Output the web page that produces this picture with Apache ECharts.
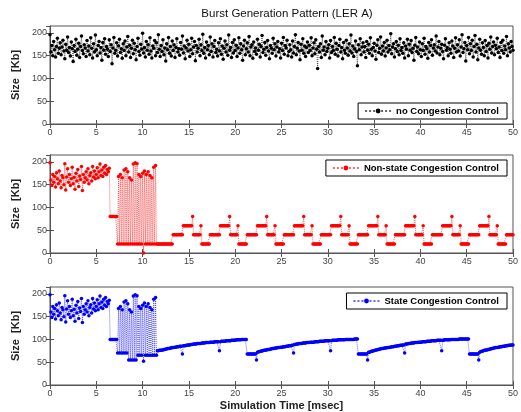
<!DOCTYPE html>
<html>
<head>
<meta charset="utf-8">
<script src="https://cdn.jsdelivr.net/npm/echarts@6/dist/echarts.min.js"></script>
<style>
html,body{margin:0;padding:0;background:#fff;}
#chart{width:521px;height:412px;}
</style>
</head>
<body>
<div id="chart"></div>
<script>
// sampling interval of the simulation [msec]
const timeStep = 0.1;
const seriesNames = ['no Congestion Control', 'Non-state Congestion Control', 'State Congestion Control'];

// Burst size [Kb] without congestion control (t = 0 .. 50 msec)
const noCongestion = [
196,158,172,150,181,163,147,170,188,155,166,178,152,169,184,160,143,175,162,191,
157,168,149,180,165,137,172,159,186,151,164,177,146,170,193,161,154,174,167,148,
183,160,171,152,189,166,145,176,158,195,163,150,172,181,156,168,140,179,162,187,
153,170,164,148,185,159,174,132,167,190,155,162,178,149,171,186,157,165,144,176,
161,182,150,169,192,158,173,146,166,184,154,177,163,141,170,188,159,151,175,164,
199,156,168,147,181,162,174,153,189,160,145,171,166,183,150,178,157,196,164,148,
172,159,185,152,167,138,176,163,190,155,170,149,182,161,174,146,168,187,158,165,
151,179,164,193,156,171,143,167,184,160,175,148,163,188,154,169,181,139,172,158,
166,186,150,174,161,197,155,168,145,180,163,172,152,191,159,176,147,170,183,157,
164,149,178,160,187,153,171,142,166,182,158,174,151,195,162,168,146,179,156,185,
161,173,148,167,189,155,176,163,140,171,184,152,165,178,158,192,150,169,174,144,
180,159,167,153,186,162,175,147,170,194,157,164,179,151,168,183,160,143,172,166,
155,188,163,176,149,169,181,158,165,145,177,161,190,153,172,167,184,150,159,174,
163,147,182,156,170,196,152,166,179,160,141,175,162,187,155,171,148,168,180,157,
173,161,189,150,167,178,154,185,164,122,170,158,176,146,193,162,169,152,181,159,
166,174,145,183,157,170,161,190,153,177,164,149,172,186,158,168,143,179,162,155,
184,167,151,176,160,195,156,171,148,165,182,159,128,174,163,187,152,169,178,158,
170,146,181,162,175,155,189,164,150,168,177,160,142,173,185,157,166,191,153,171,
160,179,149,167,184,158,172,163,198,154,169,176,147,165,181,159,173,152,187,161,
168,155,178,145,171,164,186,150,175,162,183,157,166,140,173,190,159,169,154,180,
163,148,176,161,188,153,170,165,144,179,158,172,185,151,167,174,160,193,156,169,
181,152,166,175,159,143,173,187,162,168,150,178,164,155,182,171,146,166,189,158,
174,160,185,149,169,196,157,165,179,138,172,163,190,154,176,161,184,147,170,194,
158,175,141,167,186,162,153,178,168,150,183,159,172,145,177,164,191,156,170,180,
152,173,165,188,157,169,146,179,161,184,155,171,163,192,150,176,167,158,181,170,
162
];

// Burst size [Kb] with non-state congestion control
const nonStateCongestion = [
198,160,148,172,155,168,145,176,163,152,180,158,143,170,165,150,196,138,167,185,
155,172,148,163,188,152,166,140,175,158,183,146,169,161,190,137,172,155,165,178,
160,185,152,170,176,158,190,167,180,163,172,187,165,178,195,170,182,168,188,175,
192,172,183,178,186,
80,80,80,80,80,80,80,80,
20,168,20,172,20,165,20,182,20,185,20,178,20,165,20,160,20,195,20,198,20,196,
20,172,20,168,20,175,0,180,20,172,20,178,20,170,20,165,20,188,20,192,20,
20,20,20,20,20,20,20,20,20,20,20,20,20,20,20,20,20,
40,40,40,40,40,40,40,40,40,40,40,
60,60,60,60,60,60,60,60,60,60,
80,40,40,40,40,40,40,40,40,60,20,20,20,20,20,20,20,20,20,40,40,40,40,40,40,40,40,40,40,40,60,60,60,60,60,60,60,60,60,60,
80,40,40,40,40,40,40,40,40,60,20,20,20,20,20,20,20,20,20,40,40,40,40,40,40,40,40,40,40,40,60,60,60,60,60,60,60,60,60,60,
80,40,40,40,40,40,40,40,40,60,20,20,20,20,20,20,20,20,20,40,40,40,40,40,40,40,40,40,40,40,60,60,60,60,60,60,60,60,60,60,
80,40,40,40,40,40,40,40,40,60,20,20,20,20,20,20,20,20,20,40,40,40,40,40,40,40,40,40,40,40,60,60,60,60,60,60,60,60,60,60,
80,40,40,40,40,40,40,40,40,60,20,20,20,20,20,20,20,20,20,40,40,40,40,40,40,40,40,40,40,40,60,60,60,60,60,60,60,60,60,60,
80,40,40,40,40,40,40,40,40,60,20,20,20,20,20,20,20,20,20,40,40,40,40,40,40,40,40,40,40,40,60,60,60,60,60,60,60,60,60,60,
80,40,40,40,40,40,40,40,40,60,20,20,20,20,20,20,20,20,20,40,40,40,40,40,40,40,40,40,40,40,60,60,60,60,60,60,60,60,60,60,
80,40,40,40,40,40,40,40,40,60,20,20,20,20,20,20,20,20,20,40,40,40,40,40,40,40,40,40,40,40,60,60,60,60,60,60,60,60,60,60,
80,40,40,40,40,40,40,40,40,60,20,20,20,20,20,20,20,20,20,40,40,40,40,40,40,40,40
];

// Burst size [Kb] with state congestion control
const stateCongestion = [
198,160,148,172,155,168,145,176,163,152,180,158,143,170,165,150,196,138,167,185,
155,172,148,163,188,152,166,140,175,158,183,146,169,161,190,137,172,155,165,178,
160,185,152,170,176,158,190,167,180,163,172,187,165,178,195,170,182,168,188,175,
192,172,183,178,186,
100,100,100,100,100,100,100,100,
70,168,70,172,70,165,70,182,70,185,70,178,55,165,55,160,55,195,55,198,55,196,
65,172,65,168,65,175,52,180,65,172,65,178,65,170,65,165,65,188,65,192,65,
75,75,76,76,76,77,77,78,78,
79,79,80,80,80,81,81,82,82,82,
83,83,84,84,84,85,85,85,68,86,
86,86,87,87,88,88,88,89,89,89,
90,90,90,90,91,91,91,91,91,92,
92,92,92,93,93,93,93,93,94,94,
94,94,94,95,95,95,95,95,75,95,
96,96,96,96,96,97,97,97,97,97,
97,98,98,98,98,98,99,99,99,99,
99,99,100,100,100,100,100,100,
68,68,68,68,68,68,68,68,68,68,55,
72,73,73,74,74,75,75,76,76,77,
77,78,78,78,79,79,80,80,80,81,
81,81,82,82,82,83,83,83,84,84,
84,85,85,85,86,86,86,87,87,70,
89,89,90,90,90,91,91,91,91,92,
92,92,92,93,93,93,93,94,94,94,
94,94,95,95,95,95,95,96,96,96,
96,96,96,97,97,97,97,97,97,75,
97,98,98,98,98,98,98,99,99,99,
99,99,99,99,99,100,100,100,100,100,
100,100,100,100,100,101,101,101,101,
68,68,68,68,68,68,68,68,68,68,55,
72,72,73,74,74,75,75,76,77,77,
78,78,79,79,80,80,80,81,81,81,
82,82,82,83,83,84,84,84,85,85,
85,86,86,86,87,87,87,88,88,70,
90,90,90,91,91,91,92,92,92,92,
93,93,93,93,94,94,94,94,95,95,
95,95,95,96,96,96,96,96,97,97,
97,97,97,97,98,98,98,98,98,75,
98,98,99,99,99,99,99,99,99,100,
100,100,100,100,100,100,100,100,101,101,
101,101,101,101,101,101,101,101,101,
68,68,68,68,68,68,68,68,68,68,55,
72,73,74,74,75,76,76,77,77,78,
78,79,79,80,80,81,81,82,82,82,
83,83,84,84,84,85,85,85,86,86,
86,87,87,87,88,88,88
];

const panels = [
  {name: seriesNames[0], values: noCongestion, color: '#000000', top: 26, legendPos: {right: 14, top: 103}},
  {name: seriesNames[1], values: nonStateCongestion, color: '#ff0000', top: 155, legendPos: {right: 14, top: 160}},
  {name: seriesNames[2], values: stateCongestion, color: '#0000ff', top: 287, legendPos: {right: 14, top: 293}}
];

const FONT = 'Liberation Sans, Arial, Helvetica, sans-serif';
const axisColor = '#555';
const labelColor = '#444';
const yMax = 215;

const grids = [], xAxes = [], yAxes = [], series = [], legends = [];
panels.forEach((p, i) => {
  grids.push({left: 50, top: p.top, width: 463, height: 98, show: true, borderColor: axisColor, borderWidth: 1, backgroundColor: '#fff'});
  xAxes.push({
    type: 'value', gridIndex: i, min: 0, max: 50, interval: 5, position: 'bottom',
    axisLine: {show: true, lineStyle: {color: axisColor}},
    axisTick: {show: true, inside: true, length: 4, lineStyle: {color: axisColor}},
    axisLabel: {color: labelColor, fontSize: 9, fontFamily: FONT, margin: 4},
    splitLine: {show: false},
    name: i === 2 ? 'Simulation Time [msec]' : '',
    nameLocation: 'middle', nameGap: 15,
    nameTextStyle: {fontSize: 11, fontWeight: 'bold', color: '#222', fontFamily: FONT}
  });
  xAxes.push({
    type: 'value', gridIndex: i, min: 0, max: 50, interval: 5, position: 'top',
    axisLine: {show: true, lineStyle: {color: axisColor}},
    axisTick: {show: true, inside: true, length: 4, lineStyle: {color: axisColor}},
    axisLabel: {show: false}, splitLine: {show: false}
  });
  yAxes.push({
    type: 'value', gridIndex: i, min: 0, max: yMax, interval: 50, position: 'left',
    axisLine: {show: true, lineStyle: {color: axisColor}},
    axisTick: {show: true, inside: true, length: 4, lineStyle: {color: axisColor}},
    axisLabel: {color: labelColor, fontSize: 9, fontFamily: FONT, margin: 3, showMaxLabel: false},
    splitLine: {show: false},
    name: 'Size  [Kb]', nameLocation: 'middle', nameGap: 25, nameRotate: 90,
    nameTextStyle: {fontSize: 11, fontWeight: 'bold', color: '#222', fontFamily: FONT}
  });
  yAxes.push({
    type: 'value', gridIndex: i, min: 0, max: yMax, interval: 50, position: 'right',
    axisLine: {show: true, lineStyle: {color: axisColor}},
    axisTick: {show: true, inside: true, length: 4, lineStyle: {color: axisColor}},
    axisLabel: {show: false, showMaxLabel: false}, splitLine: {show: false}
  });
  series.push({
    name: p.name, type: 'line', xAxisIndex: i * 2, yAxisIndex: i * 2,
    data: p.values.map((v, k) => [Math.round(k * timeStep * 10) / 10, v]),
    symbol: 'circle', symbolSize: 3.5, showSymbol: true, showAllSymbol: true,
    itemStyle: {color: p.color},
    lineStyle: {color: p.color, width: 1, type: 'dotted', opacity: 0.6},
    animation: false, silent: true
  });
  legends.push(Object.assign({
    data: [p.name], orient: 'vertical',
    backgroundColor: '#fff', borderColor: '#000', borderWidth: 1, borderRadius: 0,
    padding: [3, 8, 3, 6], itemWidth: 26, itemHeight: 6, itemGap: 0,
    textStyle: {fontSize: 9.5, fontWeight: 'bold', color: '#000', fontFamily: FONT},
    selectedMode: false
  }, p.legendPos));
});

const chart = echarts.init(document.getElementById('chart'), null, {renderer: 'canvas'});
chart.setOption({
  backgroundColor: '#fff',
  animation: false,
  title: {
    text: 'Burst Generation Pattern (LER A)', left: 282, top: 3, textAlign: 'center',
    textStyle: {fontSize: 11.5, fontWeight: 'normal', color: '#111', fontFamily: FONT}
  },
  grid: grids, xAxis: xAxes, yAxis: yAxes, series: series, legend: legends
});
</script>
</body>
</html>
